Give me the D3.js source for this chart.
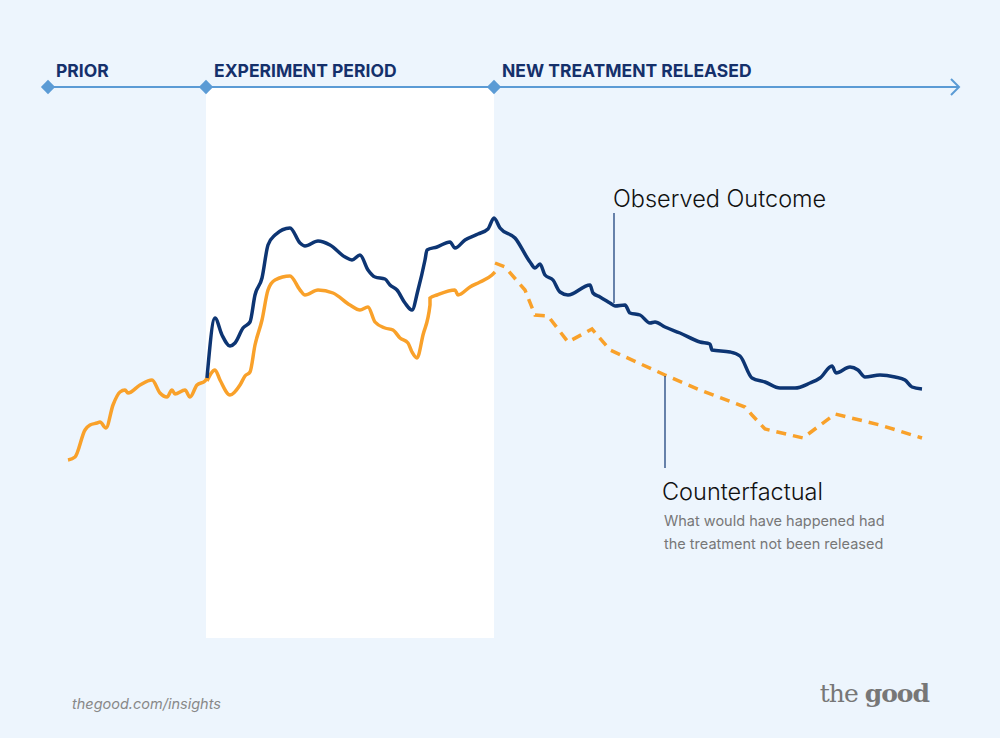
<!DOCTYPE html>
<html><head><meta charset="utf-8">
<script src="https://cdn.jsdelivr.net/npm/d3@7"></script>
<style>body{margin:0;background:#edf5fd}svg{display:block}text{font-family:Inter,"Noto Sans",sans-serif}</style>
</head><body><svg width="1000" height="738"></svg>
<script>
// t = day offset from start, v = outcome level
const priorT = [0,7,17,22,29,32,38,45,52,57,60,72,84,92,99,104,107,117,122,129,137,139];
const priorV = [40,43,70,75,77,78,72,95,108,110,107,115,120,107,103,110,106,110,103,115,119,122];
const expT = [139,147,152,162,172,177,182,187,194,200,207,222,232,237,250,265,282,292,300,307,317,325,332,340,344,349,355,362,362,369,387,390,402,412,424,427];
const expCf = [119,130,120,105,115,124,128,155,180,210,220,224,210,205,210,207,195,190,193,178,172,170,162,157,148,142,165,195,202,205,210,205,213,218,225,228];
const obsT = [139,147,154,162,167,175,182,187,194,200,207,222,232,237,250,262,277,284,292,300,307,317,322,329,337,344,350,357,359,369,382,387,397,410,420,426];
const obsV = [122,182,165,154,157,172,178,205,222,255,265,272,257,254,259,255,243,240,245,230,223,221,215,210,197,190,210,240,250,253,258,252,260,266,271,282];
const postT = [426,432,447,462,467,472,477,485,492,500,522,525,532,542,547,557,562,572,582,587,597,612,632,642,644,662,672,684,697,712,727,742,752,764,768,782,790,797,812,827,837,844,854];
const postV = [282,272,262,238,232,236,225,220,208,205,215,207,203,197,194,195,187,185,177,178,173,167,158,156,150,148,144,122,118,112,112,117,122,134,127,133,130,123,125,123,120,113,111];
const cfT = [427,437,457,467,480,500,524,542,597,632,677,684,697,735,767,812,854];
const cfV = [237,233,210,185,184,158,171,150,125,110,93,85,71,62,86,75,62];
const phases = ["PRIOR","EXPERIMENT PERIOD","NEW TREATMENT RELEASED"];
const phaseT = [-20,138,426];

const svg = d3.select("svg");
const x = d3.scaleLinear().domain([0,854]).range([68,922]);
const y = d3.scaleLinear().domain([0,400]).range([500,100]);
const line = d3.line().x(d => x(d[0])).y(d => y(d[1])).curve(d3.curveMonotoneX);
const zip = (a,b) => a.map((t,i) => [t,b[i]]);

svg.append("rect").attr("x",x(phaseT[1])).attr("width",x(phaseT[2])-x(phaseT[1]))
  .attr("y",87).attr("height",551).attr("fill","#fff");

// timeline
const tl = "#5b9bd5";
svg.append("line").attr("x1",x(phaseT[0])).attr("x2",958).attr("y1",87).attr("y2",87).attr("stroke",tl).attr("stroke-width",2);
svg.append("path").attr("d","M951,79L959,87L951,95").attr("fill","none").attr("stroke",tl).attr("stroke-width",2);
phases.forEach((p,i) => {
  const px = x(phaseT[i]);
  svg.append("path").attr("d",d3.symbol(d3.symbolDiamond2,130)()).attr("transform",`translate(${px},87)`).attr("fill",tl);
  svg.append("text").attr("x",px+8).attr("y",77).text(p).attr("font-size",17.5).attr("font-weight",700).attr("fill","#15306b");
});

const orange = "#f9a12a", navy = "#0d3573";
svg.append("path").attr("d",line(zip(priorT,priorV))).attr("fill","none").attr("stroke",orange).attr("stroke-width",3.5);
svg.append("path").attr("d",line(zip(expT,expCf))).attr("fill","none").attr("stroke",orange).attr("stroke-width",3.5);
svg.append("path").attr("d",d3.line().x(d=>x(d[0])).y(d=>y(d[1]))(zip(cfT,cfV))).attr("fill","none").attr("stroke",orange).attr("stroke-width",3.5).attr("stroke-dasharray","10,7");
svg.append("path").attr("d",line(zip(obsT,obsV).concat(zip(postT,postV).slice(1)))).attr("fill","none").attr("stroke",navy).attr("stroke-width",3.5);

// annotations
svg.append("line").attr("x1",614).attr("x2",614).attr("y1",213).attr("y2",303).attr("stroke",navy).attr("stroke-width",1.2);
svg.append("text").attr("x",613).attr("y",207).text("Observed Outcome").attr("font-size",23.5).attr("fill","#111").attr("font-weight",300);
svg.append("line").attr("x1",665).attr("x2",665).attr("y1",376).attr("y2",468).attr("stroke",navy).attr("stroke-width",1.2);
svg.append("text").attr("x",662).attr("y",500).text("Counterfactual").attr("font-size",23.5).attr("fill","#111").attr("font-weight",300);
["What would have happened had","the treatment not been released"].forEach((s,i) =>
  svg.append("text").attr("x",664).attr("y",526+i*23).text(s).attr("font-size",14.5).attr("fill","#777"));

svg.append("text").attr("x",72).attr("y",709).text("thegood.com/insights").attr("font-size",14.5).attr("font-style","italic").attr("fill","#888");
const logo = svg.append("text").attr("x",929).attr("y",702).attr("text-anchor","end").style("font-family","'DejaVu Serif',serif").attr("font-size",25).attr("letter-spacing",-1).attr("fill","#777");
logo.append("tspan").text("the ");
logo.append("tspan").text("good").attr("font-weight",700);
</script></body></html>
